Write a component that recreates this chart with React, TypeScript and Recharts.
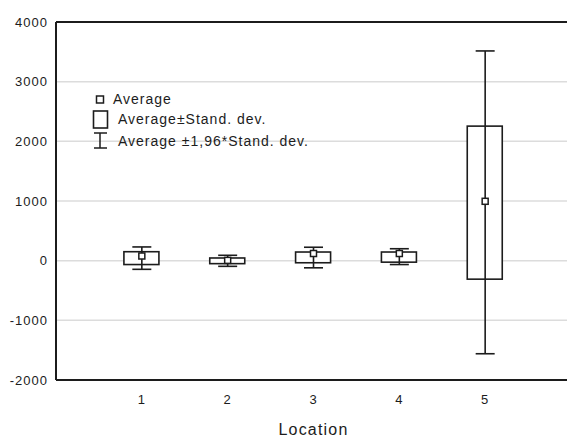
import {
  ComposedChart,
  Bar,
  Scatter,
  ErrorBar,
  XAxis,
  YAxis,
  CartesianGrid,
  ReferenceLine,
  Legend,
} from "recharts"

// values
const locations = [1, 2, 3, 4, 5]
const averages = [78, 5, 120, 120, 995]
const sdLow = [-65, -50, -35, -25, -310]
const sdHigh = [150, 45, 145, 145, 2255]
const ciLow = [-145, -95, -120, -65, -1560]
const ciHigh = [230, 90, 225, 200, 3515]
const yTicks = [-2000, -1000, 0, 1000, 2000, 3000, 4000]

const data = locations.map((loc, i) => ({
  loc,
  mean: averages[i],
  box: [sdLow[i], sdHigh[i]],
  ci: [averages[i] - ciLow[i], ciHigh[i] - averages[i]],
}))

const INK = "#1c1c1c"
const font = "Arial, 'Liberation Sans', sans-serif"

const BoxShape = (props: any) => {
  const { x, y, width, height } = props
  return (
    <rect
      x={x}
      y={y}
      width={width}
      height={Math.max(height, 1)}
      fill="#fff"
      stroke={INK}
      strokeWidth={1.6}
    />
  )
}

const MeanShape = (props: any) => {
  const { cx, cy } = props
  return (
    <rect
      x={cx - 3}
      y={cy - 3}
      width={6}
      height={6}
      fill="#fff"
      stroke={INK}
      strokeWidth={1.5}
    />
  )
}

const Hidden = () => <g />

const LegendBox = () => {
  const text: React.CSSProperties = {
    position: "absolute",
    fontFamily: font,
    fontSize: 14,
    letterSpacing: 1,
    color: INK,
    whiteSpace: "nowrap",
    lineHeight: "16px",
  }
  return (
    <div style={{ position: "relative", width: 240, height: 70 }}>
      <svg width={30} height={70} style={{ position: "absolute", left: 0, top: 0 }}>
        <rect x={8.5} y={6} width={7} height={7} fill="#fff" stroke={INK} strokeWidth={1.5} />
        <rect x={5.5} y={21} width={14} height={17} fill="#fff" stroke={INK} strokeWidth={1.6} />
        <line x1={12} y1={43} x2={12} y2={58} stroke={INK} strokeWidth={1.5} />
        <line x1={6} y1={43} x2={19} y2={43} stroke={INK} strokeWidth={1.5} />
        <line x1={6} y1={58} x2={19} y2={58} stroke={INK} strokeWidth={1.5} />
      </svg>
      <div style={{ ...text, left: 25, top: 1 }}>Average</div>
      <div style={{ ...text, left: 30, top: 21 }}>Average±Stand. dev.</div>
      <div style={{ ...text, left: 30, top: 43 }}>Average ±1,96*Stand. dev.</div>
    </div>
  )
}

export default function App() {
  return (
    <div
      style={{
        position: "absolute",
        left: 0,
        top: 0,
        width: 567,
        height: 437,
        overflow: "hidden",
        background: "#fff",
      }}
    >
      <ComposedChart
        width={576}
        height={437}
        data={data}
        margin={{ top: 22, right: 5, bottom: 0, left: 0 }}
      >
        <CartesianGrid horizontal vertical={false} stroke="#dcdcdc" strokeWidth={1.5} />
        <XAxis
          dataKey="loc"
          type="number"
          domain={[0, 6]}
          ticks={locations}
          allowDataOverflow
          height={57}
          tickLine={false}
          tickMargin={9}
          axisLine={{ stroke: INK, strokeWidth: 2 }}
          tick={{ fill: INK, fontSize: 13, fontFamily: font, letterSpacing: 1 }}
          label={{
            value: "Location",
            position: "insideBottom",
            offset: 2,
            fill: INK,
            fontSize: 16,
            fontFamily: font,
            letterSpacing: 1.2,
          }}
        />
        <YAxis
          type="number"
          domain={[-2000, 4000]}
          ticks={yTicks}
          width={56}
          tickLine={false}
          axisLine={{ stroke: INK, strokeWidth: 2 }}
          tick={{ fill: INK, fontSize: 13, fontFamily: font, letterSpacing: 1 }}
        />
        <ReferenceLine y={4000} stroke={INK} strokeWidth={2} />
        <Scatter dataKey="mean" shape={Hidden} isAnimationActive={false}>
          <ErrorBar
            dataKey="ci"
            direction="y"
            width={9.5}
            stroke={INK}
            strokeWidth={1.6}
            isAnimationActive={false}
          />
        </Scatter>
        <Bar dataKey="box" barSize={35} shape={BoxShape} isAnimationActive={false} />
        <Scatter dataKey="mean" shape={MeanShape} isAnimationActive={false} />
        <Legend
          content={LegendBox}
          layout="horizontal"
          verticalAlign="middle"
          align="center"
          wrapperStyle={{ left: 88, top: 90, width: 240, height: 70 }}
        />
      </ComposedChart>
    </div>
  )
}
